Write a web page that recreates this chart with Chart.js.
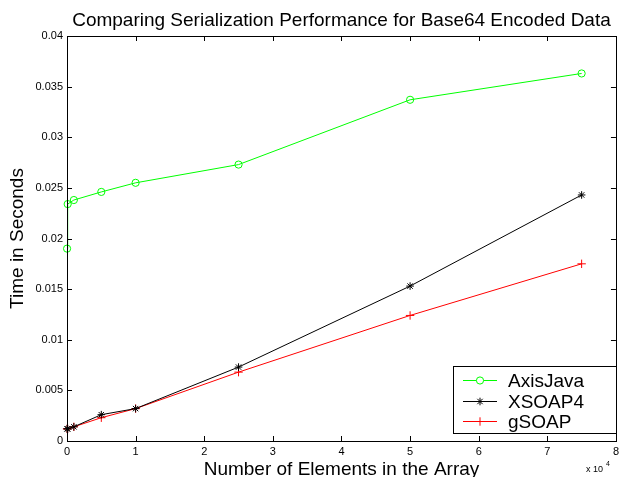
<!DOCTYPE html>
<html><head><meta charset="utf-8">
<script src="https://cdn.jsdelivr.net/npm/chart.js@4/dist/chart.umd.min.js"></script>
<style>html,body{margin:0;padding:0;background:#fff}#wrap{width:623px;height:477px}</style>
</head><body><div id="wrap"><canvas id="c" width="623" height="477"></canvas></div>
<script>
const elements = [10, 100, 1000, 5000, 10000, 25000, 50000, 75000];
const axisJava = [0.0190, 0.0234, 0.0238, 0.0246, 0.0255, 0.0273, 0.0337, 0.0363];
const xsoap4   = [0.0012, 0.0012, 0.0014, 0.0026, 0.0032, 0.0073, 0.0153, 0.0243];
const gsoap    = [0.0012, 0.0012, 0.0014, 0.0023, 0.0032, 0.0068, 0.0124, 0.0175];
const seriesNames = ['AxisJava', 'XSOAP4', 'gSOAP'];
const xTickLabels = ['0','1','2','3','4','5','6','7','8'];
const yTickLabels = ['0','0.005','0.01','0.015','0.02','0.025','0.03','0.035','0.04'];
const titleText = 'Comparing Serialization Performance for Base64 Encoded Data';
const xTitle = 'Number of Elements in the Array';
const yTitle = 'Time in Seconds';

const FONT = "'Liberation Sans', Arial, Helvetica, sans-serif";
const pts = arr => arr.map((y, i) => ({x: elements[i], y}));

const colors = ['#00ff00', '#000000', '#ff0000'];
const styles = ['circle', 'star', 'cross'];
const radii = [3.6, 3.8, 4.2];
const datasets = [axisJava, xsoap4, gsoap].map((d, i) => ({
  label: seriesNames[i],
  data: pts(d),
  borderColor: colors[i],
  backgroundColor: 'rgba(0,0,0,0)',
  borderWidth: 1,
  pointStyle: styles[i],
  pointRadius: radii[i],
  pointBorderWidth: 1,
  pointBorderColor: colors[i],
  pointBackgroundColor: 'rgba(0,0,0,0)',
  tension: 0,
  fill: false,
  clip: false
}));

const framePlugin = {
  id: 'frame',
  afterDraw(chart) {
    const ctx = chart.ctx, a = chart.chartArea;
    const xs = chart.scales.x, ys = chart.scales.y;
    ctx.save();
    ctx.strokeStyle = '#000';
    ctx.lineWidth = 1;
    ctx.strokeRect(Math.round(a.left) + 0.5, Math.round(a.top) + 0.5,
                   Math.round(a.right - a.left), Math.round(a.bottom - a.top));
    const L = 5;
    ctx.beginPath();
    xs.ticks.forEach(t => {
      const px = Math.round(xs.getPixelForValue(t.value)) + 0.5;
      ctx.moveTo(px, a.bottom); ctx.lineTo(px, a.bottom - L);
      ctx.moveTo(px, a.top); ctx.lineTo(px, a.top + L);
    });
    ys.ticks.forEach(t => {
      const py = Math.round(ys.getPixelForValue(t.value)) + 0.5;
      ctx.moveTo(a.left, py); ctx.lineTo(a.left + L, py);
      ctx.moveTo(a.right, py); ctx.lineTo(a.right - L, py);
    });
    ctx.stroke();

    const cx = (a.left + a.right) / 2, cy = (a.top + a.bottom) / 2;
    ctx.fillStyle = '#000';
    ctx.textBaseline = 'alphabetic';
    ctx.textAlign = 'center';
    ctx.font = '19px ' + FONT;
    ctx.fillText(titleText, cx, 25.5);
    ctx.fillText(xTitle, cx, 475);
    ctx.save();
    ctx.translate(23, cy);
    ctx.rotate(-Math.PI / 2);
    ctx.fillText(yTitle, 0, 0);
    ctx.restore();

    // exponent label
    ctx.textAlign = 'left';
    ctx.font = '9px ' + FONT;
    ctx.fillText('x 10', 586, 472);
    ctx.font = '7px ' + FONT;
    ctx.fillText('4', 606, 466);

    // legend
    const bx = 453.5, by = 366.5, bw = 163, bh = 67;
    ctx.fillStyle = '#fff';
    ctx.fillRect(bx, by, bw, bh);
    ctx.strokeStyle = '#000';
    ctx.strokeRect(bx, by, bw, bh);
    const rows = [380, 401, 421];
    chart.data.datasets.forEach((ds, i) => {
      const ry = rows[i];
      ctx.strokeStyle = ds.borderColor;
      ctx.lineWidth = 1;
      ctx.beginPath();
      ctx.moveTo(463, ry + 0.5); ctx.lineTo(497, ry + 0.5);
      ctx.stroke();
      Chart.helpers.drawPoint(ctx, {
        pointStyle: ds.pointStyle, radius: ds.pointRadius, rotation: 0, borderWidth: 1
      }, 480, ry + 0.5);
      ctx.fillStyle = '#000';
      ctx.font = '19px ' + FONT;
      ctx.textBaseline = 'alphabetic';
      ctx.fillText(ds.label, 508, ry + 7);
    });
    ctx.restore();
  }
};

new Chart(document.getElementById('c'), {
  type: 'line',
  data: { datasets },
  plugins: [framePlugin],
  options: {
    responsive: false,
    animation: false,
    devicePixelRatio: 1,
    layout: { padding: { left: 0, right: 7, top: 36, bottom: 0 } },
    plugins: {
      legend: { display: false },
      tooltip: { enabled: false },
      title: { display: false }
    },
    scales: {
      x: {
        type: 'linear',
        min: 0, max: 80000,
        grid: { display: false, drawTicks: false },
        border: { display: false },
        ticks: {
          stepSize: 10000,
          color: '#000',
          padding: 4,
          maxRotation: 0,
          font: { family: FONT, size: 11 },
          callback: (v) => xTickLabels[Math.round(v / 10000)]
        },
        afterFit: s => { s.height = 36; }
      },
      y: {
        type: 'linear',
        min: 0, max: 0.04,
        grid: { display: false, drawTicks: false },
        border: { display: false },
        ticks: {
          stepSize: 0.005,
          color: '#000',
          padding: 4,
          font: { family: FONT, size: 11 },
          callback: (v) => yTickLabels[Math.round(v / 0.005)]
        },
        afterFit: s => { s.width = 67; }
      }
    }
  }
});
</script>
</body></html>
